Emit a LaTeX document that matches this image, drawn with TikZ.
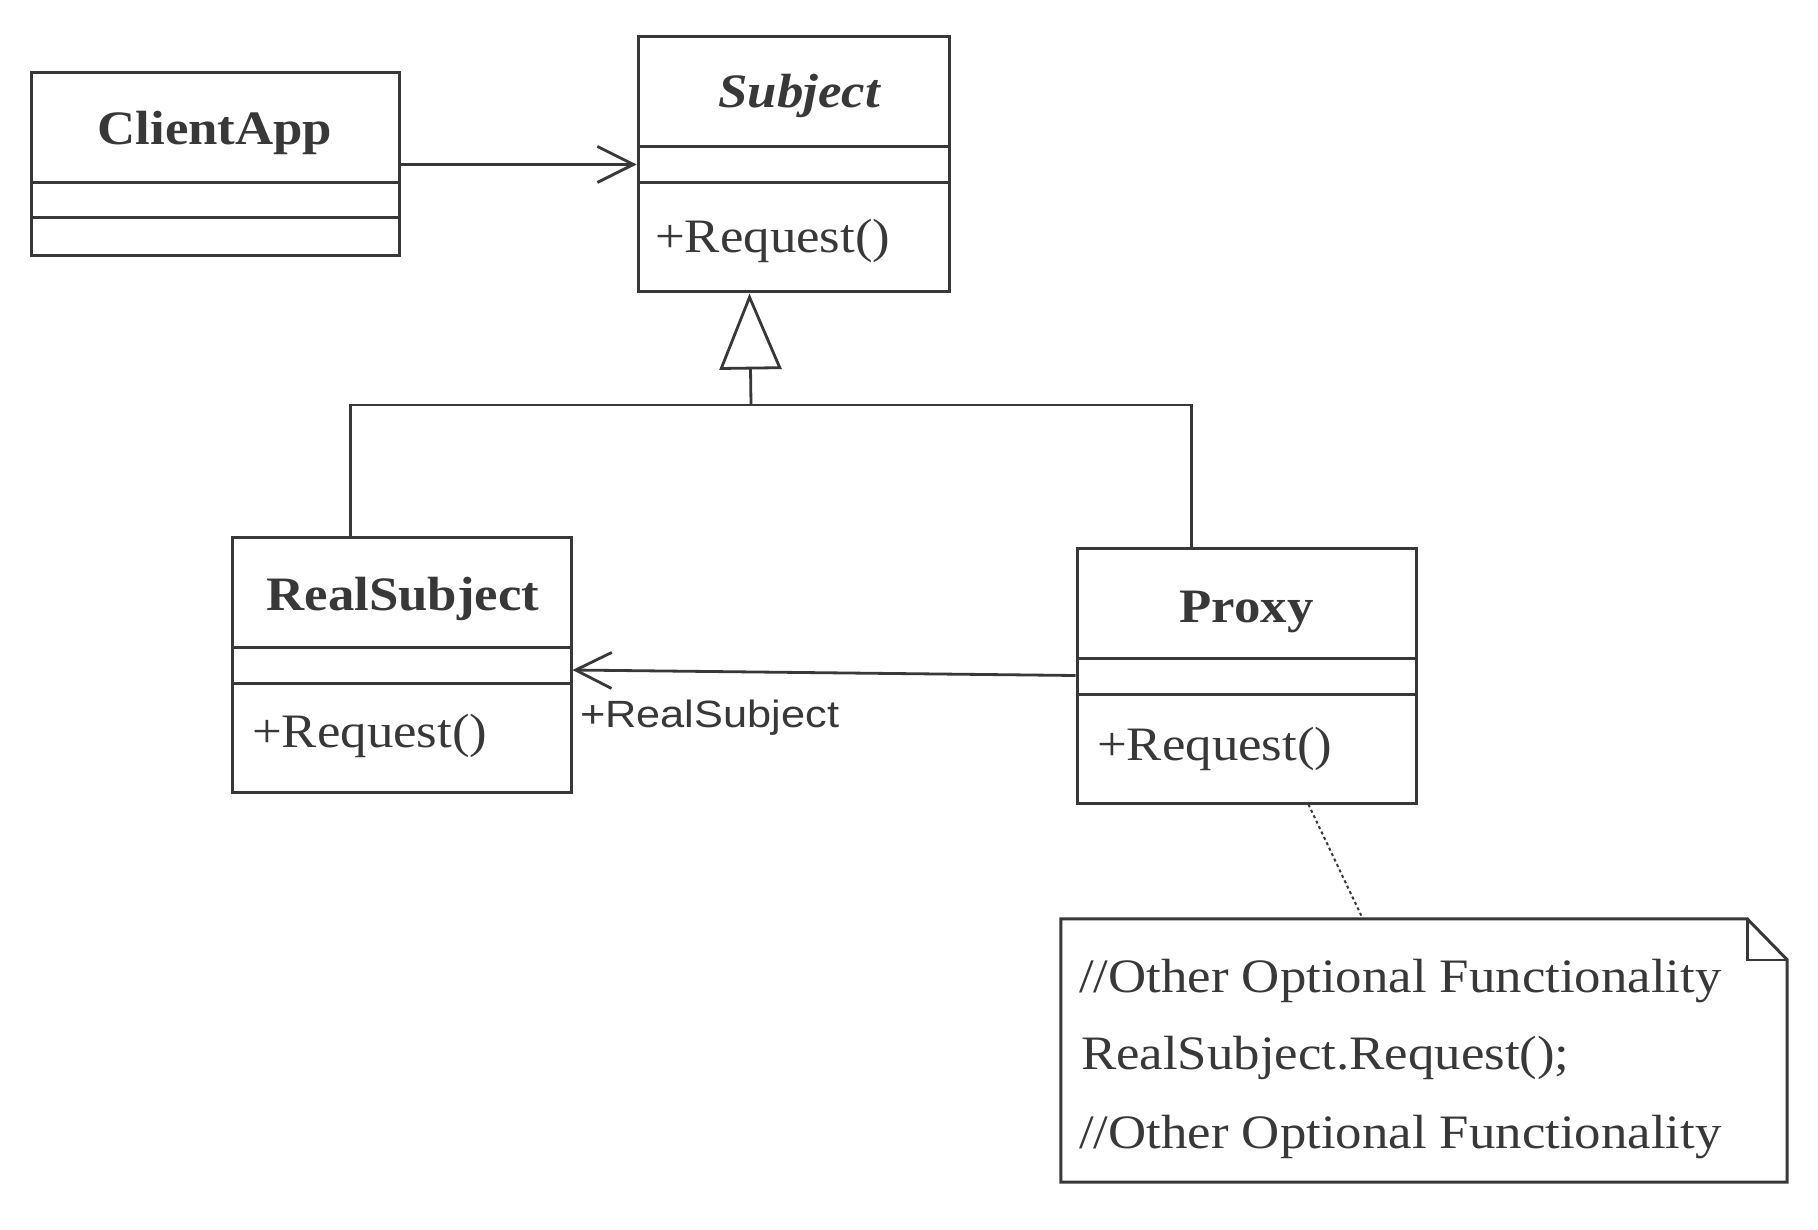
\documentclass[tikz,border=0pt]{standalone}
\usepackage{fontspec}
\setmainfont{Liberation Serif}[FakeStretch=1.1]
\newfontfamily\lblfont{Liberation Sans}[FakeStretch=1.14]
\usetikzlibrary{arrows.meta}
\definecolor{ink}{gray}{0.22}
\begin{document}
\begin{tikzpicture}[x=1pt,y=-1pt,
  box/.style={draw=ink, line width=3pt, inner sep=0pt, fill=none},
  divider/.style={draw=ink, line width=3pt},
  conn/.style={draw=ink, line width=2.8pt},
  title/.style={text=ink, inner sep=0pt, anchor=base, font=\fontsize{48}{56}\selectfont\bfseries},
  method/.style={text=ink, inner sep=0pt, anchor=base west, font=\fontsize{48}{56}\selectfont},
  notetext/.style={text=ink, inner sep=0pt, anchor=base west, font=\fontsize{48}{56}\selectfont},
  lbl/.style={text=ink, inner sep=0pt, anchor=base west, font=\lblfont\fontsize{38}{44}\selectfont},
  openv/.style={-{Straight Barb[length=36pt,width=36pt,line width=2.8pt]}},
  gentip/.style={-{Triangle[open,length=76pt,width=62pt,line width=2.8pt,fill=white]}}
]
\useasboundingbox (0,0) rectangle (1818,1230);
\fill[white] (0,0) rectangle (1818,1230);

% ClientApp
\node[box, minimum width=368pt, minimum height=183pt] (client) at (215,164.5) {};
\draw[divider] (31,183) -- (399,183);
\draw[divider] (31,218) -- (399,218);
\node[title] (clientT) at (215,145) {ClientApp};

% Subject
\node[box, minimum width=311pt, minimum height=255pt] (subject) at (793.5,164.5) {};
\draw[divider] (638,147) -- (949,147);
\draw[divider] (638,183) -- (949,183);
\node[title] (subjectT) at (799,108) {\itshape Subject};
\node[method] (subjectM) at (655,253) {+Request()};

% RealSubject
\node[box, minimum width=339pt, minimum height=255pt] (realsub) at (401.5,664.5) {};
\draw[divider] (232,647) -- (571,647);
\draw[divider] (232,683) -- (571,683);
\node[title] (realsubT) at (403,610) {RealSubject};
\node[method] (realsubM) at (252,747) {+Request()};

% Proxy
\node[box, minimum width=339pt, minimum height=255pt] (proxy) at (1246.5,675.5) {};
\draw[divider] (1077,658) -- (1416,658);
\draw[divider] (1077,694) -- (1416,694);
\node[title] (proxyT) at (1246.5,622) {Proxy};
\node[method] (proxyM) at (1097,760) {+Request()};

% Note
\node[minimum width=726pt, minimum height=263pt, inner sep=0pt] (note) at (1424,1050.5) {};
\draw[ink, line width=3pt, line join=miter]
  (note.north west) -- ([xshift=-40pt]note.north east) -- ([yshift=-41pt]note.north east)
  -- (note.south east) -- (note.south west) -- cycle;
\draw[ink, line width=2.6pt]
  ([xshift=-40pt]note.north east) |- ([yshift=-41pt]note.north east);
\node[notetext] (n1) at (1079,992) {//Other Optional Functionality};
\node[notetext] (n2) at (1081,1069) {RealSubject.Request();};
\node[notetext] (n3) at (1079,1148) {//Other Optional Functionality};

% Connectors
\draw[conn, openv] (client) -- (subject);
\coordinate (join) at (751,405);
\draw[conn] ([xshift=120pt]realsub.north west) |- (join) -| ([xshift=116pt]proxy.north west);
\draw[conn, gentip] (join) -- ([xshift=113pt]subject.south west);
\draw[conn, openv] (proxy.west) -- ([yshift=-5.5pt]realsub.east);
\node[lbl] (rlabel) at (580,727) {+RealSubject};
\draw[ink, line width=2pt, dash pattern=on 3pt off 3pt] ([xshift=233pt]proxy.south west) -- ([xshift=302pt]note.north west);
\end{tikzpicture}
\end{document}
